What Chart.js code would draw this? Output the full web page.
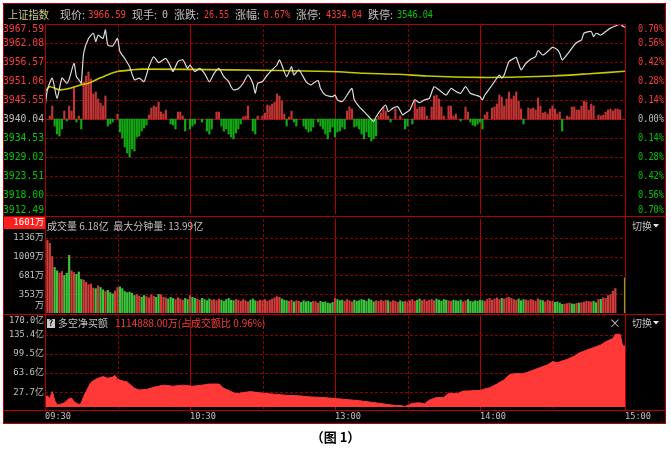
<!DOCTYPE html>
<html>
<head>
<meta charset="utf-8">
<title>上证指数 分时</title>
<script src="https://cdn.jsdelivr.net/npm/chart.js@4.4.1/dist/chart.umd.min.js"></script>
<style>
  html, body { margin: 0; padding: 0; background: #fff; }
  #wrap { position: relative; width: 671px; height: 467px; overflow: hidden; }
  #board { position: absolute; left: 3px; top: 3px; width: 663px; height: 421px; background: #000; }
  #wrap canvas { position: absolute; left: 0; top: 0; }
  #caption { position: absolute; left: 0; top: 428px; width: 671px; text-align: center;
             font: bold 13px/18px "Noto Sans CJK SC", sans-serif; color: #000; }
</style>
</head>
<body>
<div id="wrap">
  <div id="board"></div>
  <canvas id="cPrice" width="671" height="430"></canvas>
  <canvas id="cVol" width="671" height="430"></canvas>
  <canvas id="cNet" width="671" height="430"></canvas>
  <div id="caption">（图 1）</div>
</div>
<script>
// ---- data (x = minutes since 09:30, lunch break removed) ----
const timeTickMin = [0, 60, 120, 180, 240];
const timeTickText = ['09:30', '10:30', '13:00', '14:00', '15:00'];
const gridMin = [30, 60, 90, 120, 150, 180, 210];
const solidGridMin = [60, 120, 180];

const prevClose = 3940.04;
const priceTicks = [3967.59, 3962.08, 3956.57, 3951.06, 3945.55, 3940.04, 3934.53, 3929.02, 3923.51, 3918.00, 3912.49];
const pctTicks = ['0.70%', '0.56%', '0.42%', '0.28%', '0.14%', '0.00%', '0.14%', '0.28%', '0.42%', '0.56%', '0.70%'];

const pricePts = [
  [0,3943.4],[1,3948.5],[3,3951.9],[5,3946.0],[7,3951.9],[9,3950.4],[10,3951.6],[12,3956.2],[13,3952.3],[14,3951.4],
  [15,3950.4],[16,3959.1],[18,3963.4],[20,3964.9],[21,3962.5],[22,3964.4],[24,3963.4],[25,3965.9],[26,3961.5],[28,3961.2],
  [30,3963.4],[31,3959.6],[33,3957.6],[35,3955.2],[37,3951.4],[39,3951.9],[41,3950.9],[43,3955.2],[45,3958.1],[47,3956.4],
  [50,3957.6],[52,3955.2],[53,3953.8],[55,3956.7],[57,3957.2],[59,3954.7],[60,3955.7],[62,3953.8],[64,3954.7],[66,3953.3],
  [68,3950.9],[70,3953.3],[72,3954.7],[74,3952.3],[76,3950.9],[77,3949.4],[78,3948.5],[80,3948.8],[82,3950.4],[84,3952.8],
  [86,3950.4],[87,3947.5],[88,3950.4],[90,3950.9],[92,3952.8],[94,3954.3],[96,3955.7],[97,3957.2],[98,3955.7],[100,3952.3],
  [102,3955.2],[103,3952.8],[105,3954.3],[108,3950.9],[110,3949.9],[111,3950.4],[113,3951.2],[114,3948.9],[116,3947.0],[119,3946.5],
  [120,3947.0],[121,3945.6],[123,3945.1],[125,3947.0],[127,3948.9],[128,3945.6],[130,3943.6],[132,3942.2],[134,3940.7],[136,3939.3],
  [137,3940.7],[139,3942.7],[141,3944.1],[142,3942.2],[144,3943.2],[146,3943.6],[148,3941.2],[149,3941.7],[151,3942.7],[153,3945.6],
  [155,3944.8],[157,3945.6],[159,3946.0],[161,3949.4],[163,3948.5],[166,3947.0],[168,3948.9],[170,3948.0],[172,3947.5],[174,3949.4],
  [176,3947.5],[178,3947.0],[180,3946.5],[181,3945.6],[182,3947.0],[184,3948.9],[186,3950.9],[188,3952.8],[189,3951.9],[190,3952.8],
  [192,3956.7],[194,3957.6],[195,3957.9],[197,3954.3],[199,3956.2],[201,3957.4],[203,3958.1],[204,3959.9],[206,3958.6],[208,3959.6],
  [210,3960.8],[212,3960.1],[213,3959.1],[214,3957.2],[217,3959.6],[219,3961.5],[220,3962.2],[222,3963.0],[223,3964.9],[226,3965.4],
  [227,3963.9],[228,3964.9],[230,3964.4],[232,3965.4],[234,3966.4],[237,3967.3],[238,3967.6],[239,3967.0],[240,3966.6]
];

const avgPts = [
  [0,3948.0],[2,3949.4],[6,3948.5],[10,3948.9],[15,3950.0],[18,3950.4],[22,3951.7],[26,3952.9],[30,3953.8],[36,3954.3],
  [40,3954.5],[76,3954.3],[118,3953.8],[132,3953.3],[146,3953.0],[158,3952.5],[180,3952.1],[196,3952.2],[210,3952.5],[224,3953.1],
  [240,3953.9]
];

// red/green strength bars around the previous close (units = px of the panel)
const forcePts = [
  [2,3],[3,13],[4,-7],[5,-15],[6,-17],[7,-10],[8,8],[9,-2],[10,13],[11,8],[12,32],[13,-3],[14,3],[15,-10],
  [16,37],[17,43],[18,47],[19,40],[20,25],[21,27],[22,20],[23,16],[24,13],[25,23],[26,-7],[27,-5],[28,-3],[30,5],
  [31,-13],[32,-19],[33,-28],[34,-34],[35,-38],[36,-30],[37,-32],[38,-18],[39,-17],[40,-12],[41,-9],[42,-6],
  [43,4],[44,11],[45,13],[46,12],[47,17],[48,7],[49,5],[50,9],[52,-5],[53,-6],[54,-10],[55,7],[56,7],[57,3],[58,-12],
  [60,-10],[61,-7],[62,-5],[65,-3],[67,-12],[68,-15],[69,-10],[71,7],[72,7],[73,-7],[74,-12],[75,-10],[76,-15],
  [77,-18],[78,-20],[79,-14],[80,-10],[81,-5],[82,2],[83,3],[84,13],[86,-12],[87,-15],[88,3],[90,3],[91,6],[92,14],
  [93,13],[94,15],[95,17],[96,25],[97,23],[98,18],[99,5],[100,-7],[101,2],[102,8],[103,-3],[104,-7],[107,-7],[108,-10],
  [109,-13],[110,-12],[111,-8],[113,-3],[114,-7],[115,-10],[116,-15],[117,-20],[118,-13],[119,-8],[120,-18],[121,-13],
  [122,-12],[123,-8],[124,-10],[125,8],[126,12],[127,10],[128,-8],[129,-7],[130,-10],[131,-15],[132,-20],[133,-13],
  [134,-18],[135,-22],[136,-20],[137,-17],[138,3],[139,6],[140,12],[141,8],[142,3],[143,-3],[145,10],[147,3],[149,-10],
  [150,-7],[152,-5],[153,18],[154,10],[155,12],[156,12],[157,12],[158,3],[160,12],[161,23],[162,24],[163,20],[164,12],
  [165,3],[167,13],[168,13],[169,3],[170,5],[172,-2],[174,12],[175,7],[176,-3],[177,-6],[178,-7],[179,-5],[180,-3],
  [181,-10],[182,4],[183,7],[185,11],[186,12],[187,15],[188,24],[189,22],[190,13],[191,20],[192,27],[193,20],[194,23],
  [195,27],[196,18],[197,10],[198,-5],[200,11],[201,10],[202,11],[203,9],[204,21],[205,13],[206,6],[207,7],[208,5],
  [209,10],[210,13],[211,10],[212,5],[213,7],[214,-12],[216,3],[217,2],[218,12],[219,12],[220,9],[221,9],[222,13],
  [223,18],[224,17],[225,9],[226,15],[227,13],[229,4],[230,3],[231,4],[232,7],[233,9],[234,10],[235,8],[236,10],
  [237,10],[238,9]
];

const volTicks = [25, 353, 681, 1009, 1336, 1664];
const volTickText = ['万', '353万', '681万', '1009万', '1336万', '1601万'];
// per-minute volume, 万股
const volume = [
  1336,1290,1240,1010,820,760,720,750,680,720,
  1030,760,730,700,740,610,600,560,520,530,
  460,450,500,470,430,400,420,380,360,410,
  470,480,450,400,380,390,370,330,350,320,
  300,330,310,290,340,320,300,350,340,300,
  290,270,300,280,260,290,270,250,280,260,
  330,300,280,270,250,280,260,240,270,250,
  260,240,270,250,230,260,280,250,240,260,
  250,230,260,240,220,250,270,240,230,250,
  240,260,230,250,270,290,310,300,270,250,
  240,230,250,220,240,230,210,240,220,230,
  210,230,220,200,230,210,220,200,190,210,
  280,260,240,250,230,260,240,220,250,230,
  240,260,250,230,270,250,220,240,230,250,
  230,250,240,220,240,230,210,240,220,230,
  220,240,260,230,250,270,240,260,230,250,
  260,240,270,250,230,260,250,240,230,250,
  240,230,250,220,240,260,230,220,240,230,
  250,240,230,260,280,250,270,290,260,280,
  270,290,300,280,260,250,270,240,260,250,
  240,260,250,230,270,250,240,220,250,230,
  230,210,220,200,175,180,190,200,185,180,
  195,200,205,215,230,225,220,230,205,260,
  265,290,280,330,348,405,452,0,0,0,640
];
const volDir =
  'grrrggrrgg' + 'grrgggrrrr' + 'rgrggrgggr' + 'rgggggggrr' + 'ggrrrrggrr' + 'rgggrrrrgg' +
  'rggrrggggr' + 'rrrggggggr' + 'rrrrrgggrr' + 'rrrrrrrrgg' + 'grrgrrgggg' + 'grrrgggggg' +
  'rgggrrrrgg' + 'gggggggrrr' + 'rrgrrrrggr' + 'rrrrggrrrr' + 'rrgggggrrg' + 'gggrrggggg' +
  'ggrrrrrrrg' + 'rrrrrrgggr' + 'rrrrrggrrr' + 'rggggrrrgg' + 'rgrrrrrggr' + 'grrrrrrrrg' + 'g';

const netTicks = [170.0, 135.4, 99.5, 63.6, 27.7];
const netTickText = ['170.0亿', '135.4亿', '99.5亿', '63.6亿', '27.7亿'];
// cumulative net buy, 亿
const netPts = [
  [0,18],[1,21],[2,16],[3,29],[4,13],[5,4],[6,5],[8,8],[9,12],[10,16],[11,17],[12,10],[14,5],[15,7],[16,20],
  [17,29],[18,38],[19,46],[21,52],[24,57],[26,54],[28,56],[29,59],[30,52],[32,49],[34,47],[35,43],[37,35],[39,32],
  [42,33],[45,37],[49,41],[53,39],[57,41],[61,39],[65,41],[68,43],[72,43],[74,35],[77,29],[79,25],[82,27],[85,29],
  [90,26],[95,24],[100,22],[105,21],[110,19],[115,18],[120,16],[125,14],[130,12],[135,9],[140,6],[145,3],[147,3],
  [149,1],[152,7],[155,8],[157,6],[159,13],[162,18],[165,18],[167,26],[169,25],[171,26],[173,30],[175,30],[178,31],
  [180,31],[182,34],[184,36],[187,43],[190,51],[192,60],[195,63],[197,62],[199,64],[202,69],[205,74],[208,79],
  [210,85],[212,83],[216,89],[219,95],[221,101],[224,106],[227,111],[230,116],[232,122],[235,128],[236,136],
  [238,136],[239,114],[240,114]
];

// ---- look ----
const W = 671, H = 430, L = 45, R = 625;
const C_LINE = '#b40000', C_DASH = '#8c0000';
const C_TXT = '#c0c0c0', C_RED = '#ff3c3c', C_GRN = '#00c800';
const MONO = "'DejaVu Sans Mono','Noto Sans CJK SC',monospace";
const CJK = "'Noto Sans CJK SC','DejaVu Sans',sans-serif";

function seg(ctx, x1, y1, x2, y2, color, dash) {
  ctx.save();
  ctx.strokeStyle = color;
  ctx.lineWidth = 1;
  ctx.setLineDash(dash || []);
  ctx.beginPath();
  ctx.moveTo(x1, y1);
  ctx.lineTo(x2, y2);
  ctx.stroke();
  ctx.restore();
}

function txt(ctx, s, x, y, color, font, align, maxW) {
  ctx.save();
  ctx.fillStyle = color;
  ctx.font = font;
  ctx.textAlign = align || 'left';
  ctx.textBaseline = 'middle';
  if (maxW) ctx.fillText(s, x, y, maxW); else ctx.fillText(s, x, y);
  ctx.restore();
}

function vGrid(chart) {
  const a = chart.chartArea, x = chart.scales.x;
  gridMin.forEach(m => {
    const px = Math.round(x.getPixelForValue(m)) + 0.5;
    const solid = solidGridMin.includes(m);
    seg(chart.ctx, px, a.top, px, a.bottom, solid ? C_LINE : C_DASH, solid ? [] : [3, 2]);
  });
}

function hGrid(chart, id, values, solidValue) {
  const a = chart.chartArea, s = chart.scales[id];
  values.forEach(v => {
    const py = Math.round(s.getPixelForValue(v)) + 0.5;
    if (py <= a.top + 1 || py >= a.bottom - 1) return;
    const solid = v === solidValue;
    seg(chart.ctx, a.left, py, a.right, py, solid ? C_LINE : C_DASH, solid ? [] : [3, 2]);
  });
}

function yLabels(chart, id, values, texts, colors, x, align, font, padTop, padBot, maxW) {
  const a = chart.chartArea, s = chart.scales[id];
  values.forEach((v, i) => {
    let py = s.getPixelForValue(v);
    py = Math.min(Math.max(py, a.top + padTop), a.bottom - padBot);
    txt(chart.ctx, texts[i], x, py, colors[i], font, align, maxW);
  });
}

function switchBtn(ctx, y) {
  txt(ctx, '切换', 632, y, C_TXT, '10px ' + CJK);
  ctx.save();
  ctx.fillStyle = '#e8e8e8';
  ctx.beginPath();
  ctx.moveTo(653, y - 2); ctx.lineTo(659, y - 2); ctx.lineTo(656, y + 1.5);
  ctx.closePath(); ctx.fill();
  ctx.restore();
}

function baseOptions(top, bottom, yScales) {
  return {
    responsive: false, animation: false, devicePixelRatio: 1, events: [],
    layout: { padding: { left: L, right: W - R, top: top, bottom: H - bottom } },
    plugins: { legend: { display: false }, tooltip: { enabled: false } },
    scales: Object.assign({ x: { type: 'linear', min: 0, max: 240, offset: false, display: false } }, yScales)
  };
}

const xy = p => ({ x: p[0], y: p[1] });

// ---- price panel ----
new Chart(document.getElementById('cPrice'), {
  type: 'bar',
  data: {
    datasets: [
      { type: 'bar', yAxisID: 'yF', data: forcePts.map(xy), barThickness: 1.5, order: 3,
        backgroundColor: forcePts.map(p => p[1] >= 0 ? '#c03434' : '#12a812') },
      { type: 'line', yAxisID: 'y', data: avgPts.map(xy), borderColor: '#c8c800', borderWidth: 1.6,
        pointRadius: 0, tension: 0.3, order: 2 },
      { type: 'line', yAxisID: 'y', data: pricePts.map(xy), borderColor: '#dcdcdc', borderWidth: 1.2,
        pointRadius: 0, tension: 0.2, order: 1 }
    ]
  },
  options: baseOptions(24, 214, {
    y: { min: priceTicks[10], max: priceTicks[0], display: false },
    yF: { min: -95, max: 95, display: false }
  }),
  plugins: [{
    id: 'priceDeco',
    beforeDatasetsDraw(chart) {
      vGrid(chart);
      hGrid(chart, 'y', priceTicks, prevClose);
    },
    afterDraw(chart) {
      const ctx = chart.ctx;
      const colors = priceTicks.map(v => v > prevClose ? C_RED : v < prevClose ? C_GRN : C_TXT);
      yLabels(chart, 'y', priceTicks, priceTicks.map(v => v.toFixed(2)), colors, 44, 'right', '10px ' + MONO, 5, 3.5, 41);
      yLabels(chart, 'y', priceTicks, pctTicks, colors, 638, 'left', '10px ' + MONO, 5, 3.5, 26);
      // header row
      const head = [
        ['上证指数', 8, 41, '#cccc80', '11px ' + CJK],
        ['现价:', 60, 27, C_TXT, '11px ' + CJK], ['3966.59', 88, 38, C_RED, '10px ' + MONO],
        ['现手:', 132, 27, C_TXT, '11px ' + CJK], ['0', 162, 6, C_TXT, '10px ' + MONO],
        ['涨跌:', 174, 27, C_TXT, '11px ' + CJK], ['26.55', 204, 25, C_RED, '10px ' + MONO],
        ['涨幅:', 235, 27, C_TXT, '11px ' + CJK], ['0.67%', 263.5, 27, C_RED, '10px ' + MONO],
        ['涨停:', 296, 27, C_TXT, '11px ' + CJK], ['4334.04', 326, 36, C_RED, '10px ' + MONO],
        ['跌停:', 368, 27, C_TXT, '11px ' + CJK], ['3546.04', 397, 36, C_GRN, '10px ' + MONO]
      ];
      head.forEach(h => txt(ctx, h[0], h[1], 15, h[3], h[4], 'left', h[2]));
    }
  }]
});

// ---- volume panel ----
const volData = [], volColors = [];
volume.forEach((v, i) => {
  if (v > 0) {
    volData.push({ x: i, y: v });
    volColors.push(volDir[i] === 'r' ? '#d03c3c' : '#3cc43c');
  }
});

new Chart(document.getElementById('cVol'), {
  type: 'bar',
  data: { datasets: [{ data: volData, backgroundColor: volColors, barThickness: 1.5 }] },
  options: baseOptions(219, 313, { y: { min: volTicks[0], max: volTicks[5], display: false } }),
  plugins: [{
    id: 'volDeco',
    beforeDatasetsDraw(chart) {
      vGrid(chart);
      hGrid(chart, 'y', volTicks, null);
    },
    afterDraw(chart) {
      const ctx = chart.ctx;
      ctx.fillStyle = '#ff1e1e';
      ctx.fillRect(4, 217, 41, 12);
      const colors = volTicks.map((v, i) => i === volTicks.length - 1 ? '#ffffff' : C_TXT);
      yLabels(chart, 'y', volTicks, volTickText, colors, 44, 'right', '9px ' + MONO, 4, 7, 31);
      txt(ctx, '成交量 6.18亿  最大分钟量: 13.99亿', 47, 226, C_TXT, '10px ' + CJK);
      switchBtn(ctx, 226);
    }
  }]
});

// ---- net buy panel + frame ----
new Chart(document.getElementById('cNet'), {
  type: 'line',
  data: {
    datasets: [{ data: netPts.map(xy), borderColor: '#ff3838', backgroundColor: '#ff3838', borderWidth: 1,
      pointRadius: 0, tension: 0, fill: 'origin' }]
  },
  options: baseOptions(316, 410, { y: { min: -5.4, max: 170, display: false } }),
  plugins: [{
    id: 'netDeco',
    beforeDatasetsDraw(chart) {
      vGrid(chart);
      hGrid(chart, 'y', netTicks, null);
    },
    afterDraw(chart) {
      const ctx = chart.ctx;
      yLabels(chart, 'y', netTicks, netTickText, netTicks.map(() => C_TXT), 44, 'right', '9px ' + MONO, 4.5, 3, 35);
      // panel header
      ctx.fillStyle = '#c8c8c8';
      ctx.fillRect(47, 319, 8, 9);
      txt(ctx, '?', 51, 323.5, '#000', 'bold 8px ' + MONO, 'center');
      txt(ctx, '多空净买额', 58, 323, C_TXT, '10px ' + CJK);
      txt(ctx, '1114888.00万(占成交额比 0.96%)', 115, 323, C_RED, '10px ' + CJK);
      txt(ctx, '×', 615, 323, C_TXT, '12px ' + CJK, 'center');
      switchBtn(ctx, 323);
      // time axis
      const x = chart.scales.x;
      timeTickMin.forEach((m, i) => txt(ctx, timeTickText[i], x.getPixelForValue(m), 417, C_TXT, '9px ' + MONO, 'left', 26));
      // frame
      ctx.save();
      ctx.strokeStyle = C_LINE;
      ctx.lineWidth = 1;
      ctx.strokeRect(3.5, 3.5, 662, 420);
      ctx.restore();
      seg(ctx, L, 24.5, R, 24.5, C_LINE);
      seg(ctx, L + 0.5, 24, L + 0.5, 410, C_LINE);
      seg(ctx, R + 0.5, 24, R + 0.5, 410, C_LINE);
      seg(ctx, 3, 216.5, 666, 216.5, C_LINE);
      seg(ctx, 3, 314.5, 666, 314.5, C_LINE);
      seg(ctx, 3, 410.5, 666, 410.5, C_LINE);
    }
  }]
});
</script>
</body>
</html>
